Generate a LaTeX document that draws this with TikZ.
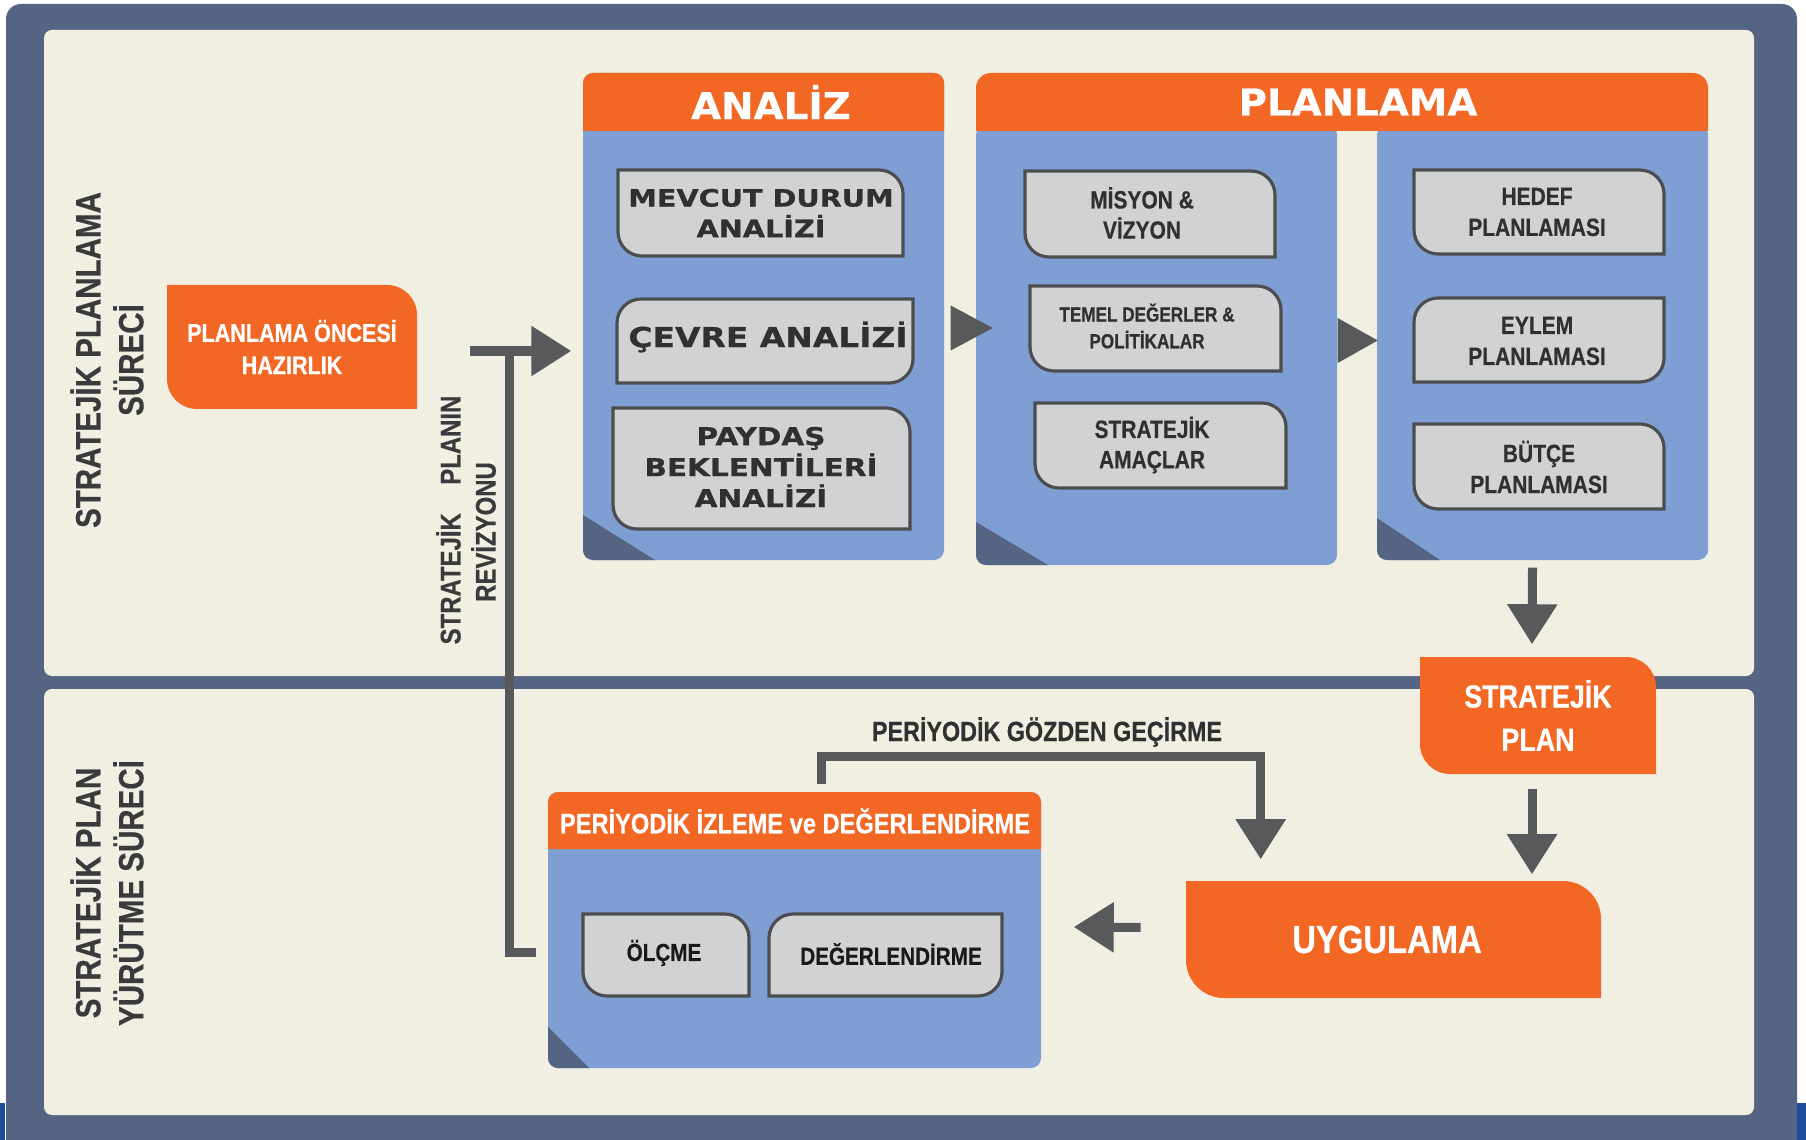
\documentclass[tikz,border=0pt]{standalone}
\usepackage{fontspec}
\setmainfont{Liberation Sans}
\newfontfamily\condfont{Liberation Sans Bold}[FakeStretch=0.84, FakeBold=0.5]
\newfontfamily\widefont{DejaVu Sans Bold}[FakeStretch=1.2, FakeBold=0.8]
\newfontfamily\headfont{DejaVu Sans Bold}[FakeStretch=1.05, FakeBold=0.6]
\usetikzlibrary{arrows.meta,calc,fit}

\definecolor{frameblue}{RGB}{84,100,130}
\definecolor{cream}{RGB}{241,239,226}
\definecolor{orng}{RGB}{242,103,36}
\definecolor{panelblue}{RGB}{126,158,212}
\definecolor{boxgray}{RGB}{209,210,212}
\definecolor{edgegray}{RGB}{77,77,79}
\definecolor{arrowgray}{RGB}{88,89,91}
\definecolor{txtgray}{RGB}{48,48,50}
\definecolor{labelgray}{RGB}{58,58,60}
\definecolor{stripblue}{RGB}{30,78,155}

% leaf boxes: two opposite corners rounded
\newcommand{\leafne}[6]{\path[#6] (#1,#2) -- (#3-#5,#2) arc[start angle=270,end angle=360,radius=#5] -- (#3,#4) -- (#1+#5,#4) arc[start angle=90,end angle=180,radius=#5] -- cycle;}
\newcommand{\leafnw}[6]{\path[#6] (#1+#5,#2) -- (#3,#2) -- (#3,#4-#5) arc[start angle=0,end angle=90,radius=#5] -- (#1,#4) -- (#1,#2+#5) arc[start angle=180,end angle=270,radius=#5] -- cycle;}
\newcommand{\headbar}[5]{\fill[orng] (#1,#4) -- (#1,#2+#5) arc[start angle=180,end angle=270,radius=#5] -- (#3-#5,#2) arc[start angle=270,end angle=360,radius=#5] -- (#3,#4) -- cycle;}

\tikzset{
  leaf/.style={fill=boxgray, draw=edgegray, line width=0.9pt},
  orangeleaf/.style={fill=orng},
  panel/.style 2 args={fill=panelblue, rounded corners=0.1cm, inner sep=0pt,
    path picture={\fill[frameblue, sharp corners] (path picture bounding box.south west) -- +(0,-#1) -- +(#2,0) -- cycle;}},
  headtext/.style={text=white, font=\headfont\fontsize{10.5}{12}\selectfont},
  widetext/.style 2 args={align=center, text=txtgray, font=\widefont\fontsize{#1}{#2}\selectfont},
  boxtext/.style 2 args={align=center, text=txtgray, font=\condfont\fontsize{#1}{#2}\selectfont},
  whitetext/.style 2 args={align=center, text=white, font=\condfont\fontsize{#1}{#2}\selectfont},
  sidelabel/.style={rotate=90, align=center, text=labelgray, font=\condfont\fontsize{10}{12.2}\selectfont},
  conn/.style={draw=arrowgray, line width=0.09cm, -{Triangle[length=0.4cm,width=0.48cm]}},
  connline/.style={draw=arrowgray, line width=0.09cm},
  tipfill/.style={fill=arrowgray}
}

\begin{document}
\begin{tikzpicture}[x=0.01cm,y=-0.01cm]
  \useasboundingbox (0,0) rectangle (1806,1140);
  \fill[white] (0,0) rectangle (1806,1140);
  \fill[frameblue, rounded corners=0.15cm] (6,4) rectangle (1797,1170);
  \fill[stripblue] (0,1103) rectangle (5,1140);
  \fill[stripblue] (1797,1103) rectangle (1806,1140);
  \fill[cream, rounded corners=0.08cm] (44,30) rectangle (1754,676);
  \fill[cream, rounded corners=0.08cm] (44,689) rectangle (1754,1115);

  \node[sidelabel] (lbltop) at (107,360) {STRATEJİK PLANLAMA\\SÜRECİ};
  \node[sidelabel] (lblbot) at (107,893) {STRATEJİK PLAN\\YÜRÜTME SÜRECİ};

  \leafne{167}{285}{417}{409}{30}{orangeleaf}
  \node[whitetext={7.3}{9.2}, minimum width=2.5cm, minimum height=1.24cm] (hazirlik) at (292,347) {PLANLAMA ÖNCESİ\\HAZIRLIK};
  \node[sidelabel, font=\condfont\fontsize{8.1}{10}\selectfont] (revlbl) at (466,520) {STRATEJİK\quad PLANIN\\REVİZYONU\hspace*{0.24cm}};

  \node[panel={45}{72}, fit={(583,73) (944,560)}] (analiz) {};
  \headbar{583}{73}{944}{131}{10}
  \node[headtext] (analizhd) at (771,102) {ANALİZ};
  \leafne{618}{170}{903}{256}{24}{leaf}
  \node[widetext={6.8}{8.7}] (mevcut) at (761,213) {MEVCUT DURUM\\ANALİZİ};
  \leafnw{617}{299}{913}{383}{24}{leaf}
  \node[widetext={7.8}{9}] (cevre) at (768,337) {ÇEVRE ANALİZİ};
  \leafne{613}{408}{910}{529}{24}{leaf}
  \node[widetext={7}{8.8}] (paydas) at (761,467) {PAYDAŞ\\BEKLENTİLERİ\\ANALİZİ};

  \node[panel={43}{72}, fit={(976,125) (1337,565)}] (planA) {};
  \node[panel={42}{63}, fit={(1377,125) (1708,560)}] (planB) {};
  \headbar{976}{73}{1708}{131}{15}
  \node[headtext] (planhd) at (1358,102) {PLANLAMA};
  \leafne{1025}{171}{1275}{257}{24}{leaf}
  \node[boxtext={7.1}{8.6}] (misyon) at (1142,213) {MİSYON \&\\VİZYON};
  \leafne{1030}{286}{1281}{371}{24}{leaf}
  \node[boxtext={5.8}{7.6}] (temel) at (1147,326) {TEMEL DEĞERLER \&\\POLİTİKALAR};
  \leafne{1035}{403}{1286}{488}{24}{leaf}
  \node[boxtext={7.1}{8.6}] (amaclar) at (1152,445) {STRATEJİK\\AMAÇLAR};
  \leafne{1414}{170}{1664}{254}{24}{leaf}
  \node[boxtext={7.1}{8.8}] (hedef) at (1537,212) {HEDEF\\PLANLAMASI};
  \leafnw{1414}{298}{1664}{382}{24}{leaf}
  \node[boxtext={7.1}{8.8}] (eylem) at (1537,341) {EYLEM\\PLANLAMASI};
  \leafne{1414}{424}{1664}{509}{24}{leaf}
  \node[boxtext={7.1}{8.8}] (butce) at (1539,467) {BÜTÇE\\PLANLAMASI};

  \leafne{1420}{657}{1656}{774}{30}{orangeleaf}
  \node[whitetext={9.1}{12.3}, minimum width=2.36cm, minimum height=1.17cm] (sp) at (1538,715.5) {STRATEJİK\\PLAN};
  \leafne{1186}{881}{1601}{998}{38}{orangeleaf}
  \node[whitetext={11.1}{13}, minimum width=4.15cm, minimum height=1.17cm] (uyg) at (1387,939.5) {UYGULAMA};

  \node[panel={41}{41}, fit={(548,792) (1041,1068)}] (izleme) {};
  \headbar{548}{792}{1041}{849}{10}
  \node[whitetext={8}{10}] (izlemehd) at (795,821) {PERİYODİK İZLEME ve DEĞERLENDİRME};
  \leafne{583}{914}{749}{996}{24}{leaf}
  \node[boxtext={7}{8.6}, text=black!90] (olcme) at (664,953) {ÖLÇME};
  \leafnw{769}{914}{1002}{996}{24}{leaf}
  \node[boxtext={7}{8.6}, text=black!90] (degerlendirme) at (891,954) {DEĞERLENDİRME};
  \node[boxtext={7.9}{9.5}] (pgg) at (1047,732) {PERİYODİK GÖZDEN GEÇİRME};

  \coordinate (revjoin) at ($(hazirlik.east)+(92,4)$);
  \draw[connline] ($(izleme.west)+(-11,22)$) -| (revjoin);
  \draw[conn] ($(hazirlik.east)+(52,4)$) -- ($(analiz.west |- hazirlik.east)+(-11,4)$);
  \fill[tipfill] ($(analiz.east)+(6,-11)$) -- ++(42,22.5) -- ++(-42,22.5) -- cycle;
  \fill[tipfill] ($(planA.east)+(0,-27)$) -- ++(40,22.5) -- ++(-40,22.5) -- cycle;
  \draw[conn] ($(planB.south)+(-10,7)$) -- ($(sp.north)+(-6,-12)$);
  \draw[conn] ($(sp.south)+(-6,14)$) -- ($(sp.south |- uyg.north)+(-6,-6)$);
  \draw[conn] ($(uyg.west)+(-38,-12)$) -- ($(izleme.east)+(32,-3)$);
  \draw[conn] ($(izleme.north)+(26.5,-7)$) |- ($(uyg.north west)+(82,-124)$) -- ($(uyg.north west)+(82,-21)$);
\end{tikzpicture}
\end{document}
